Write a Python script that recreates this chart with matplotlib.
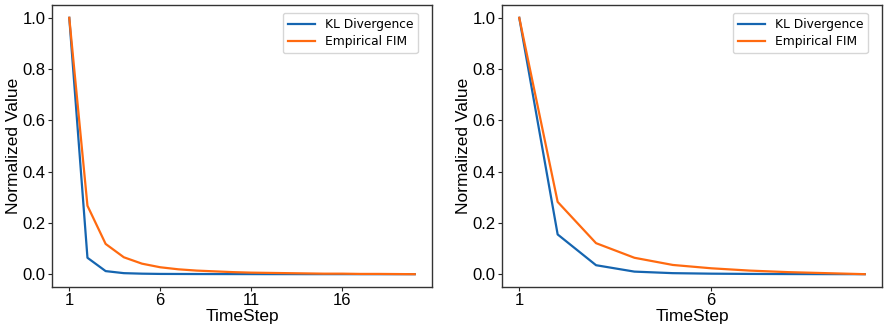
import numpy as np
import matplotlib
matplotlib.use('Agg')
import matplotlib.pyplot as plt

# left panel: 20 timesteps
steps_a = list(range(1, 21))
kl_a = [1.0, 0.064, 0.012, 0.004, 0.002, 0.001, 0.0008, 0.0006, 0.0005, 0.0004,
        0.0003, 0.0002, 0.0002, 0.0001, 0.0001, 0.0001, 0.0, 0.0, 0.0, 0.0]
fim_a = [1.0, 0.267, 0.118, 0.066, 0.041, 0.027, 0.019, 0.014, 0.011, 0.008,
         0.006, 0.005, 0.004, 0.003, 0.002, 0.002, 0.001, 0.001, 0.0005, 0.0]

# right panel: 10 timesteps
steps_b = list(range(1, 11))
kl_b = [1.0, 0.155, 0.035, 0.010, 0.004, 0.002, 0.001, 0.0005, 0.0002, 0.0]
fim_b = [1.0, 0.282, 0.121, 0.064, 0.036, 0.023, 0.014, 0.008, 0.004, 0.0]

ticks_a = [1, 6, 11, 16]
ticks_b = [1, 6]

blue = '#1565b0'
orange = '#ff6a10'

fig = plt.figure(figsize=(8.88, 3.27), dpi=100)
ax1 = fig.add_axes([52/888, 1 - 287/327, 380/888, 282/327])
ax2 = fig.add_axes([502/888, 1 - 287/327, 380/888, 282/327])

for ax, x, kl, fim, ticks in [(ax1, steps_a, kl_a, fim_a, ticks_a),
                              (ax2, steps_b, kl_b, fim_b, ticks_b)]:
    ax.plot(x, kl, color=blue, lw=1.6, label='KL Divergence')
    ax.plot(x, fim, color=orange, lw=1.6, label='Empirical FIM')
    ax.set_xticks(ticks)
    ax.set_yticks([0.0, 0.2, 0.4, 0.6, 0.8, 1.0])
    ax.set_yticklabels(['0.0', '0.2', '0.4', '0.6', '0.8', '1.0'])
    ax.set_ylim(-0.05, 1.05)
    for lab in ax.get_xticklabels() + ax.get_yticklabels():
        lab.set_fontfamily('Liberation Sans')
        lab.set_fontsize(12)
    ax.tick_params(length=3, width=0.8, pad=1.5, colors='#222222', labelcolor='black')
    ax.set_xlabel('TimeStep', fontfamily='Liberation Sans', fontsize=12.5, labelpad=0.5)
    ax.set_ylabel('Normalized Value', fontfamily='Liberation Sans', fontsize=12.5, labelpad=1.5)
    for s in ax.spines.values():
        s.set_color('#333333')
        s.set_linewidth(1.0)
    leg = ax.legend(loc='upper right', bbox_to_anchor=(0.963, 0.972), borderaxespad=0,
                    prop={'family': 'DejaVu Sans', 'size': 8.8},
                    handlelength=2.2, borderpad=0.4, labelspacing=0.35)
    leg.get_frame().set_edgecolor('#cccccc')

fig.savefig('out.png', dpi=100)
